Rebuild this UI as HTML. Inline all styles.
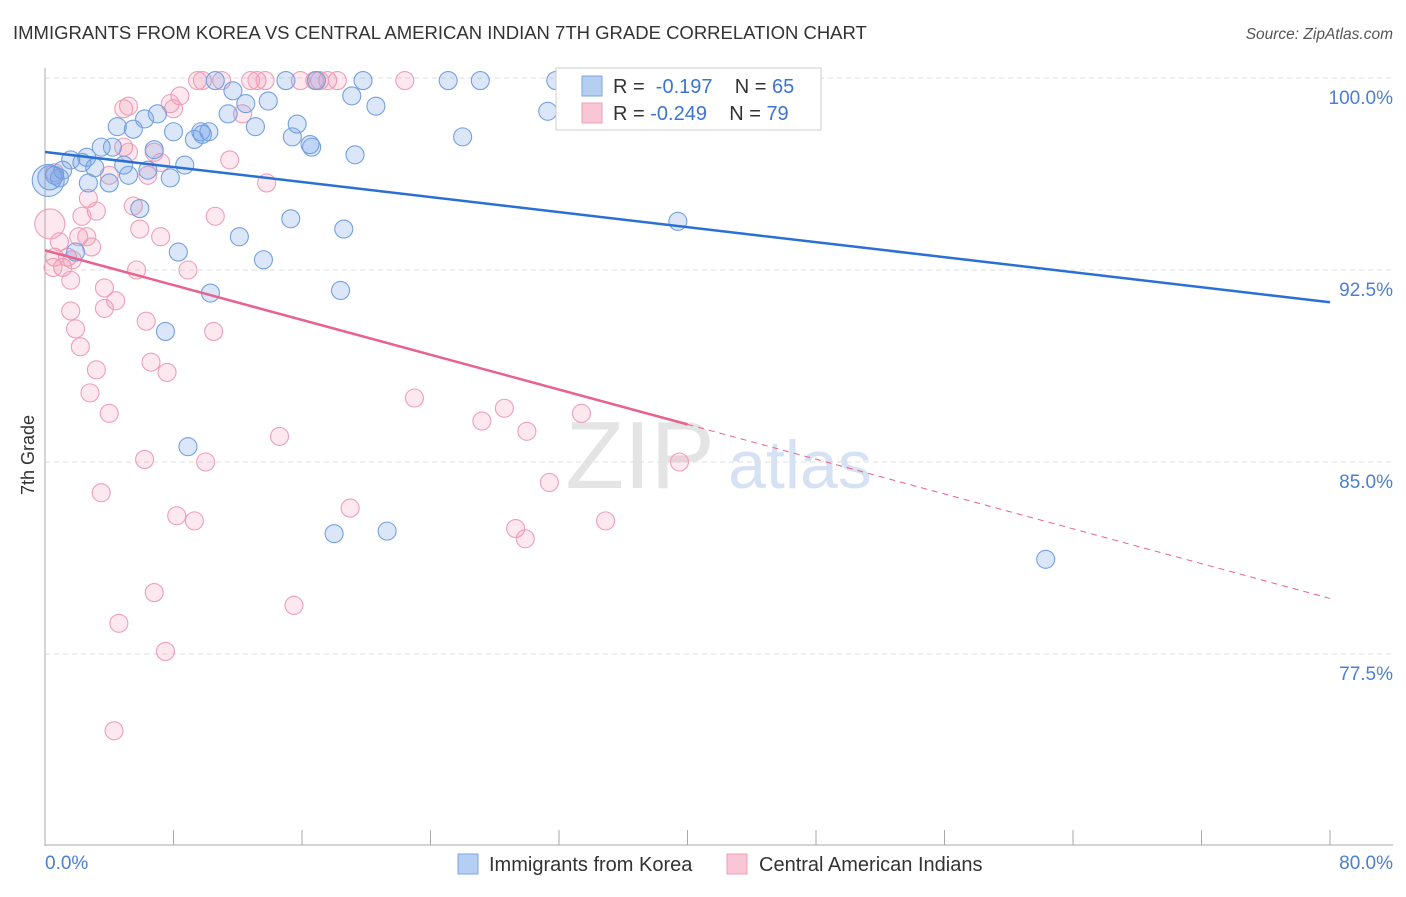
<!DOCTYPE html>
<html><head><meta charset="utf-8"><style>
body{margin:0;background:#fff;font-family:"Liberation Sans",sans-serif;}
svg text{font-family:"Liberation Sans",sans-serif;}
</style></head><body>
<svg id="chart" width="1406" height="892">
<text x="13" y="39" font-size="18.5" fill="#333">IMMIGRANTS FROM KOREA VS CENTRAL AMERICAN INDIAN 7TH GRADE CORRELATION CHART</text>
<text x="1393" y="39" font-size="15.5" fill="#555" text-anchor="end" font-style="italic">Source: ZipAtlas.com</text>
<text x="640" y="488" font-size="96" fill="#e4e4e4" font-family="Liberation Serif" text-anchor="middle">ZIP</text>
<text x="800" y="488" font-size="68" fill="#d6e2f3" text-anchor="middle">atlas</text>
<g id="grid"></g><g id="axes"></g><g id="pts"></g><g id="lines"></g>
<text x="34" y="455" font-size="18" fill="#333" text-anchor="middle" transform="rotate(-90 34 455)">7th Grade</text>
<text x="45" y="869" font-size="19" fill="#4a7fd4">0.0%</text>
<text x="1393" y="869" font-size="19" fill="#4a7fd4" text-anchor="end">80.0%</text>
<g>
<rect x="556" y="68" width="265" height="62" fill="#fff" stroke="#ccc"/>
<rect x="582" y="76" width="20" height="20" fill="#b5cff3" stroke="#7ea6e0"/>
<rect x="582" y="103" width="20" height="20" fill="#f8c6d5" stroke="#eda0b8"/>
<text x="613" y="93" font-size="20" fill="#333">R = <tspan fill="#3d74d0">&#160;-0.197</tspan>&#160;&#160;&#160; N = <tspan fill="#3d74d0">65</tspan></text>
<text x="613" y="120" font-size="20" fill="#333">R = <tspan fill="#3d74d0">-0.249</tspan>&#160;&#160;&#160; N = <tspan fill="#3d74d0">79</tspan></text>
</g>
<g>
<rect x="458" y="854" width="20" height="20" fill="#b5cff3" stroke="#7ea6e0"/>
<text x="489" y="871" font-size="20" fill="#333">Immigrants from Korea</text>
<rect x="727" y="854" width="20" height="20" fill="#f8c6d5" stroke="#eda0b8"/>
<text x="759" y="871" font-size="20" fill="#333">Central American Indians</text>
</g>
</svg>
<script>
const yTicks=[100,92.5,85,77.5];
const yTickLabels=["100.0%","92.5%","85.0%","77.5%"];
const xTicks=[0,8,16,24,32,40,48,56,64,72,80];
const blueX=[10.6,15.0,16.9,19.8,25.1,27.1,31.8,11.7,19.1,20.6,13.9,12.5,7.0,11.4,6.2,4.5,5.5,8.0,9.7,9.8,13.1,15.7,15.4,9.3,16.5,16.6,19.3,26.0,31.3,3.5,4.2,6.8,8.7,7.8,6.4,4.9,2.6,1.6,2.3,3.1,1.1,0.6,0.2,0.9,2.7,4.0,5.2,5.9,15.3,18.6,12.1,8.3,1.9,13.6,18.4,10.3,7.5,39.4,8.9,18.0,21.3,62.3,10.2,0.3];
const blueY=[99.9,99.9,99.9,99.9,99.9,99.9,99.9,99.5,99.3,98.9,99.1,99.0,98.6,98.6,98.4,98.1,98.0,97.9,97.9,97.8,98.1,98.2,97.7,97.6,97.4,97.3,97.0,97.7,98.7,97.3,97.3,97.2,96.6,96.1,96.4,96.6,96.9,96.8,96.7,96.5,96.4,96.2,96.0,96.1,95.9,95.9,96.2,94.9,94.5,94.1,93.8,93.2,93.2,92.9,91.7,91.6,90.1,94.4,85.6,82.2,82.3,81.2,97.9,96.1];
const blueR=[9,9,9,9,9,9,9,9,9,9,9,9,9,9,9,9,9,9,9,9,9,9,9,9,9,9,9,9,9,9,9,9,9,9,9,9,9,9,9,9,9,9,16,9,9,9,9,9,9,9,9,9,9,9,9,9,9,9,9,9,9,9,9,12];
const pinkX=[9.5,9.8,11.0,12.8,13.2,13.7,15.9,16.8,17.1,17.6,18.2,22.4,8.4,7.8,8.0,5.2,4.9,12.3,6.8,4.9,5.2,7.2,6.4,11.5,13.8,4.0,0.6,0.3,2.7,3.2,5.5,5.9,2.3,0.9,2.1,2.6,2.9,7.2,10.6,5.7,8.9,1.1,1.4,0.5,1.7,0.6,1.6,3.7,4.4,3.7,6.3,10.5,1.6,1.9,2.2,6.6,3.2,7.6,2.8,4.0,23.0,28.6,33.4,27.2,30.0,14.6,6.2,10.0,39.5,3.5,31.4,8.2,9.3,19.0,29.3,29.9,34.9,6.8,15.5,4.6,7.5,4.3];
const pinkY=[99.9,99.9,99.9,99.9,99.9,99.9,99.9,99.9,99.9,99.9,99.9,99.9,99.3,99.0,98.8,98.9,98.8,98.6,97.1,97.3,97.1,96.7,96.2,96.8,95.9,96.2,96.3,94.3,95.3,94.8,95.0,94.1,94.6,93.6,93.8,93.8,93.4,93.8,94.6,92.5,92.5,92.6,93.0,92.6,92.9,93.0,92.1,91.8,91.3,91.0,90.5,90.1,90.9,90.2,89.5,88.9,88.6,88.5,87.7,86.9,87.5,87.1,86.9,86.6,86.2,86.0,85.1,85.0,85.0,83.8,84.2,82.9,82.7,83.2,82.4,82.0,82.7,79.9,79.4,78.7,77.6,74.5];
const blueTrend=[97.11,91.24];
const pinkTrend=[93.27,79.67];
const pinkSolidEnd=40;
const NS="http://www.w3.org/2000/svg";
const xs=v=>45+v/80*1285;
const ys=v=>78+(100-v)*25.6;
function mk(t,a,p){const e=document.createElementNS(NS,t);for(const k in a)e.setAttribute(k,a[k]);document.getElementById(p).appendChild(e);return e;}
yTicks.forEach((t,i)=>{
 const l=mk('line',{x1:45,x2:1393,y1:ys(t),y2:ys(t),stroke:'#ddd','stroke-dasharray':'5,4'},'grid');
 
 
 const tx=mk('text',{x:1393,y:ys(t)+26,'font-size':19,fill:'#4a7fd4','text-anchor':'end'},'grid');
 tx.textContent=yTickLabels[i];
 
 
});
const ya=mk('line',{x1:45,x2:45,y1:68,y2:846,stroke:'#aaa'},'axes');


const xa=mk('line',{x1:45,x2:1393,y1:845,y2:845,stroke:'#aaa'},'axes');


xTicks.forEach(t=>{const l=mk('line',{x1:xs(t),x2:xs(t),y1:830,y2:845,stroke:'#aaa'},'axes');
 
 });
pinkX.forEach((x,i)=>{const c=mk('circle',{cx:xs(x),cy:ys(pinkY[i]),r:(i==27?15:9),fill:'rgba(242,140,170,0.2)',stroke:'#ee9fb8','stroke-width':1.1},'pts');
 
 });
blueX.forEach((x,i)=>{const c=mk('circle',{cx:xs(x),cy:ys(blueY[i]),r:blueR[i],fill:'rgba(110,160,230,0.25)',stroke:'#74a0e0','stroke-width':1.1},'pts');
 
 });
const bl=mk('line',{x1:xs(0),y1:ys(blueTrend[0]),x2:xs(80),y2:ys(blueTrend[1]),stroke:'#2a6fd6','stroke-width':2.5},'lines');


const pm=pinkTrend[0]+(pinkTrend[1]-pinkTrend[0])*pinkSolidEnd/80;
const pl=mk('line',{x1:xs(0),y1:ys(pinkTrend[0]),x2:xs(pinkSolidEnd),y2:ys(pm),stroke:'#e8628c','stroke-width':2.5},'lines');


const pd=mk('line',{x1:xs(pinkSolidEnd),y1:ys(pm),x2:xs(80),y2:ys(pinkTrend[1]),stroke:'#e8628c','stroke-width':1,'stroke-dasharray':'6,5'},'lines');


</script>
</body></html>
